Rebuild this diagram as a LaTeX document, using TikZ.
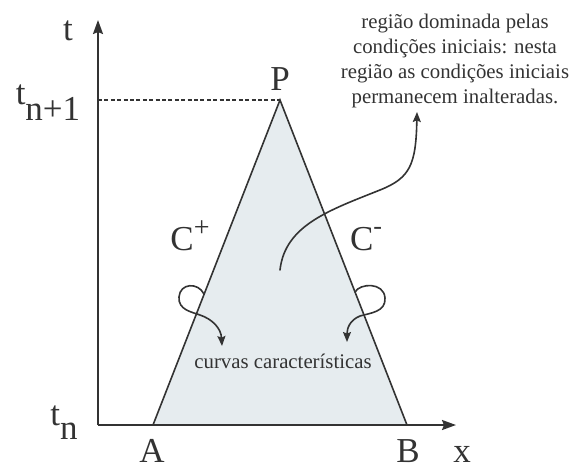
\documentclass[tikz,border=0pt]{standalone}
\usepackage{fontspec}
\setmainfont{Liberation Serif}
\usetikzlibrary{arrows.meta}
\definecolor{linegray}{HTML}{333333}
\definecolor{regionfill}{HTML}{E6ECEF}

\begin{document}
\begin{tikzpicture}[x=0.5pt,y=-0.5pt]
\tikzset{
  biglabel/.style={inner sep=0pt,text=linegray,font=\fontsize{17.5}{20}\selectfont},
  smalltext/.style={inner sep=0pt,text=linegray,font=\fontsize{10.4}{12.5}\selectfont,align=center},
  axisline/.style={draw=linegray,line width=1pt,-{Stealth[length=7pt,width=5pt,inset=1pt]}},
  edgeline/.style={draw=linegray,line width=0.8pt,line join=miter},
  pointer/.style={draw=linegray,line width=0.8pt,line cap=round,-{Stealth[length=5pt,width=4pt,inset=0.8pt]}}
}
\useasboundingbox (0,0) rectangle (584,468);
\coordinate (n_O) at (98,425);
\coordinate (n_T) at (98,20);
\coordinate (n_X) at (456,425);
\coordinate (n_Ptop) at (280,100);
\coordinate (n_Tnext) at (98,100);
\coordinate (n_Aft) at (153,425);
\coordinate (n_Bft) at (407,425);
% region
\fill[regionfill] (n_Aft) -- (n_Ptop) -- (n_Bft) -- cycle;
\draw[edgeline] (n_Aft) -- (n_Ptop) -- (n_Bft);
\draw[linegray,line width=0.8pt,dash pattern=on 2pt off 1.2pt] (n_Tnext) -- (n_Ptop);
% axes
\draw[axisline] (n_O) -- (n_T);
\draw[axisline] (n_O) -- (n_X);
% labels
\node[biglabel,anchor=base] (n_t) at (68,40) {t};
\node[biglabel,anchor=base] (n_x) at (462,462) {x};
\node[biglabel,anchor=base] (n_P) at (280,90) {P};
\node[biglabel,anchor=base] (n_A) at (152,462) {A};
\node[biglabel,anchor=base] (n_B) at (408,462) {B};
\node[biglabel,anchor=base] (n_tnext) at (48,104) {t\raisebox{-8pt}{n+1}};
\node[biglabel,anchor=base] (n_tn) at (64,425) {t\raisebox{-7pt}{n}};
\node[biglabel,anchor=base] (n_Cplus) at (190,250) {C\raisebox{7pt}{\fontsize{14}{14}\selectfont +}};
\node[biglabel,anchor=base] (n_Cminus) at (366,250) {C\raisebox{8pt}{\fontsize{13}{13}\selectfont -}};
\node[smalltext,anchor=base] (n_region) at (455,103) {região dominada pelas\\condições iniciais: nesta\\região as condições iniciais\\permanecem inalteradas.};
\node[smalltext,anchor=base] (n_curves) at (283,368) {curvas características};
% pointers
\coordinate (n_regstart) at (280,270);
\coordinate (n_regtip) at (417,112);
\draw[pointer] (n_regstart) .. controls (285,225) and (330,210) .. (380,190)
  .. controls (410,178) and (416,165) .. (n_regtip);
\coordinate (n_lstart) at (204,294);
\coordinate (n_ltip) at (222,346);
\draw[pointer] (n_lstart) .. controls (198,282) and (180,283) .. (179,297)
  .. controls (178,310) and (192,312) .. (200,315)
  .. controls (212,319) and (221,328) .. (n_ltip);
\coordinate (n_rstart) at (355,292);
\coordinate (n_rtip) at (347,342);
\draw[pointer] (n_rstart) .. controls (360,283) and (384,282) .. (385,298)
  .. controls (386,312) and (370,313) .. (360,316)
  .. controls (350,320) and (347,328) .. (n_rtip);
\end{tikzpicture}
\end{document}
